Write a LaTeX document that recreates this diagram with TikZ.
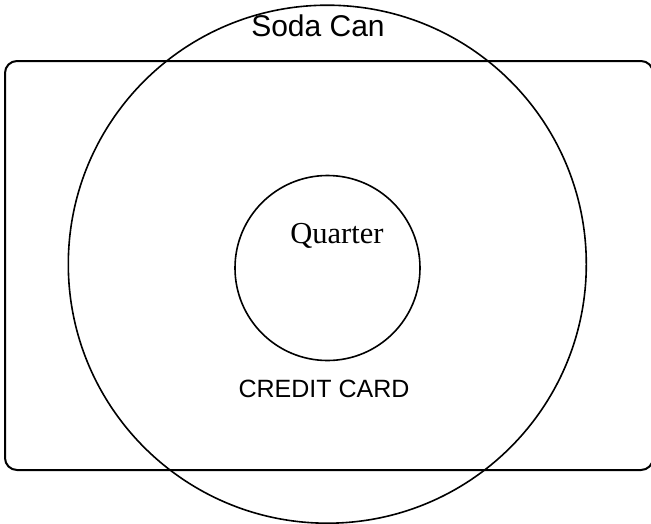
\documentclass[tikz,border=0pt]{standalone}
\usepackage{fontspec}
\setmainfont{Liberation Serif}
\setsansfont{Liberation Sans}
\usetikzlibrary{positioning}
\tikzset{
  carte/.style={rectangle, rounded corners=12pt, draw=black, line width=2pt, inner sep=0pt},
  disque/.style={circle, draw=black, line width=1.6pt, inner sep=0pt, minimum size=#1},
  etiq/.style={inner sep=0pt, anchor=base, font=#1},
}
\newcommand{\taille}[1]{\fontsize{#1}{#1}\selectfont}

\begin{document}
\begin{tikzpicture}[x=1pt, y=-1pt]
  \useasboundingbox (0,0) rectangle (651,523);
  \node[carte, minimum width=648pt, minimum height=409pt] (card) at (329,265.5) {};
  \node[disque=518pt] (can) at (327.3,264.2) {};
  \node[disque=185pt] (quarter) at (327.5,268) {};
  \node[etiq=\sffamily\taille{30}] (lcan) at (318,36) {Soda Can};
  \node[etiq=\rmfamily\taille{30.5}] (lquarter) at (337,243) {Quarter};
  \node[etiq=\sffamily\taille{25}] (lcard) at (324,397) {CREDIT CARD};
\end{tikzpicture}
\end{document}
